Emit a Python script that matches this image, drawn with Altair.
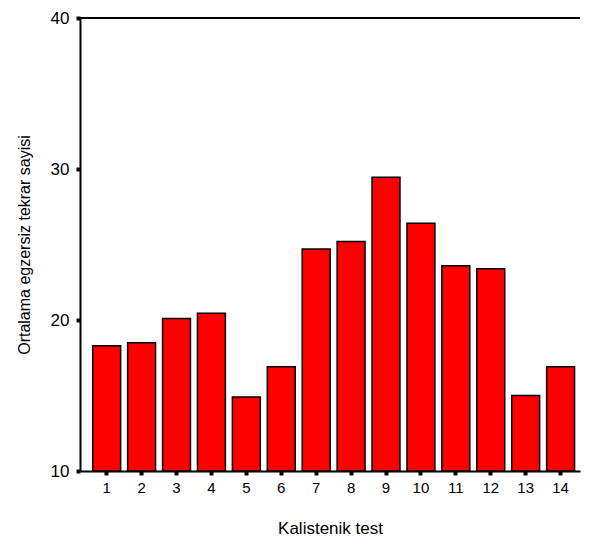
import altair as alt
import pandas as pd

tests = [str(i) for i in range(1, 15)]
values = [18.3, 18.5, 20.1, 20.45, 14.9, 16.9, 24.7, 25.2, 29.45, 26.4, 23.6, 23.4, 15.0, 16.9]
y_ticks = [10, 20, 30, 40]

df = pd.DataFrame({"test": tests, "value": values})

FONT = "Liberation Sans"

x_enc = alt.X(
    "test:N",
    sort=tests,
    title="Kalistenik test",
    scale=alt.Scale(paddingInner=0.2, paddingOuter=0.26, align=0.7),
    axis=alt.Axis(
        labelAngle=0,
        labelFont=FONT,
        labelFontSize=15,
        labelColor="black",
        labelPadding=5,
        tickSize=4,
        tickWidth=4,
        tickColor="black",
        domainColor="black",
        domainWidth=2,
        titleFont=FONT,
        titleFontSize=17,
        titleFontWeight="normal",
        titleColor="black",
        titlePadding=25,
        grid=False,
    ),
)

y_scale = alt.Scale(domain=[10, 40], nice=False, zero=False)

bars = alt.Chart(df).mark_bar(
    color="#ff0000", stroke="black", strokeWidth=1.5
).encode(
    x=x_enc,
    y=alt.Y(
        "value:Q",
        scale=y_scale,
        title="Ortalama egzersiz tekrar sayisi",
        axis=alt.Axis(
            values=y_ticks,
            labelFont=FONT,
            labelFontSize=17,
            labelColor="black",
            labelPadding=7,
            tickSize=4,
            tickWidth=4,
            tickColor="black",
            domainColor="black",
            domainWidth=2,
            titleFont=FONT,
            titleFontSize=16,
            titleFontWeight="normal",
            titleColor="black",
            titlePadding=18,
            grid=False,
        ),
    ),
    y2=alt.datum(10),
)

top_line = alt.Chart(pd.DataFrame({"v": [40]})).mark_rule(
    color="black", strokeWidth=2
).encode(y=alt.Y("v:Q", scale=y_scale))

chart = alt.layer(bars, top_line).properties(
    width=500,
    height=453,
    autosize=alt.AutoSizeParams(type="none"),
    padding={"left": 72, "top": 10, "right": 4, "bottom": 73},
).configure_view(stroke=None)

chart.save("out.html", embed_options={"renderer": "svg", "actions": False})
